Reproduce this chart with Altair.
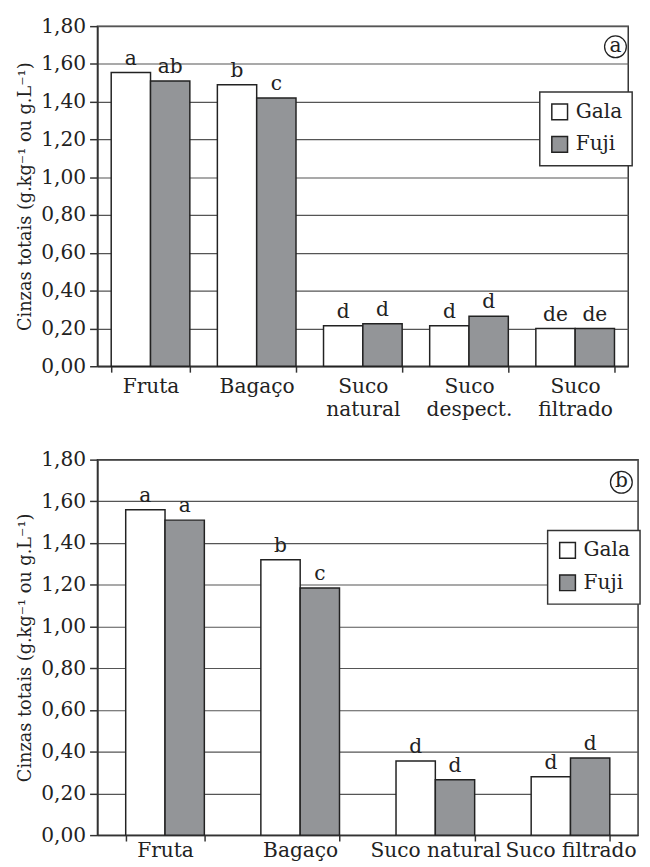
import altair as alt
import pandas as pd

varieties = ["Gala", "Fuji"]
fill_colors = ["#ffffff", "#939598"]

cats_a = ["Fruta", "Bagaço", "Suco natural", "Suco despect.", "Suco filtrado"]
gala_a = [1.555, 1.49, 0.215, 0.215, 0.20]
fuji_a = [1.51, 1.42, 0.225, 0.265, 0.20]
let_gala_a = ["a", "b", "d", "d", "de"]
let_fuji_a = ["ab", "c", "d", "d", "de"]

cats_b = ["Fruta", "Bagaço", "Suco natural", "Suco filtrado"]
gala_b = [1.56, 1.32, 0.355, 0.28]
fuji_b = [1.51, 1.185, 0.265, 0.37]
let_gala_b = ["a", "b", "d", "d"]
let_fuji_b = ["a", "c", "d", "d"]

y_ticks = [0.0, 0.2, 0.4, 0.6, 0.8, 1.0, 1.2, 1.4, 1.6, 1.8]
y_title = "Cinzas totais (g.kg⁻¹ ou g.L⁻¹)"

FONT = "DejaVu Serif"
INK = "#222222"
FS = 20.5


def panel(cats, gala, fuji, lg, lf, width, height, tag, leg_xy, tag_xy, multiline):
    rows = []
    for c, g, f, a, b in zip(cats, gala, fuji, lg, lf):
        rows.append({"cat": c, "var": "Gala", "val": g, "lab": a})
        rows.append({"cat": c, "var": "Fuji", "val": f, "lab": b})
    df = pd.DataFrame(rows)
    step = width / len(cats)
    pin = (step - 80) / step
    axis_kw = dict(title=None, labelAngle=0, tickBand="extent", grid=False,
                   tickSize=6, labelPadding=5, labelLineHeight=23)
    if multiline:
        axis_kw["labelExpr"] = "split(datum.label, ' ')"
    else:
        axis_kw["labelPadding"] = 0
    x = alt.X("cat:N", sort=cats,
              scale=alt.Scale(paddingInner=pin, paddingOuter=pin / 2),
              axis=alt.Axis(**axis_kw))
    xo = alt.XOffset("var:N", sort=varieties,
                     scale=alt.Scale(paddingInner=0, paddingOuter=0))
    y = alt.Y("val:Q", scale=alt.Scale(domain=[0, 1.8], nice=False),
              axis=alt.Axis(values=y_ticks, title=y_title,
                            labelExpr="replace(format(datum.value, '.2f'), '.', ',')"))
    color = alt.Color("var:N", sort=varieties,
                      scale=alt.Scale(domain=varieties, range=fill_colors),
                      legend=alt.Legend(orient="none", legendX=leg_xy[0],
                                        legendY=leg_xy[1], title=None))
    base = alt.Chart(df)
    bars = base.mark_bar(stroke=INK, strokeWidth=1.5).encode(x=x, xOffset=xo, y=y, color=color)
    text = base.mark_text(baseline="bottom", dy=-4, font=FONT, fontSize=FS,
                          color=INK).encode(x=x, xOffset=xo, y=y, text="lab:N")
    ann = alt.Chart(pd.DataFrame({"t": [tag]}))
    circ = ann.mark_point(shape="circle", size=490, filled=False, stroke=INK,
                          strokeWidth=1.3, opacity=1).encode(
        x=alt.value(tag_xy[0]), y=alt.value(tag_xy[1]))
    letter = ann.mark_text(font=FONT, fontSize=FS, baseline="middle", dy=-1,
                           color=INK).encode(
        x=alt.value(tag_xy[0]), y=alt.value(tag_xy[1]), text="t:N")
    return alt.layer(bars, text, circ, letter).properties(width=width, height=height)


pa = panel(cats_a, gala_a, fuji_a, let_gala_a, let_fuji_a, 540, 346, "a",
           (450, 67), (527, 21), True)
pb = panel(cats_b, gala_b, fuji_b, let_gala_b, let_fuji_b, 550, 382, "b",
           (458, 72), (533, 23), False)

chart = alt.vconcat(pa, pb, spacing=28).resolve_scale(
    color="independent", x="independent").resolve_legend(color="independent").properties(
    padding={"top": 0, "left": 8, "right": 0, "bottom": 0}
).configure_view(
    stroke="#333333", strokeWidth=1.5
).configure_axis(
    labelFont=FONT, labelFontSize=FS, labelColor=INK,
    titleFont=FONT, titleFontSize=18, titleFontWeight="normal", titleColor=INK,
    domainColor="#333333", domainWidth=1.5, tickColor="#333333", tickWidth=1.5,
    gridColor="#555555", gridWidth=1.2
).configure_axisY(
    tickSize=8, labelPadding=4, titlePadding=6
).configure_legend(
    fillColor="#ffffff", strokeColor="#333333", strokeWidth=1.5, padding=10,
    labelFont=FONT, labelFontSize=FS, labelColor=INK, symbolType="square",
    symbolSize=256, symbolStrokeColor=INK, symbolStrokeWidth=1.5,
    rowPadding=10, labelOffset=6, cornerRadius=0
)

chart.save("out.html", embed_options={"renderer": "svg", "actions": False})
